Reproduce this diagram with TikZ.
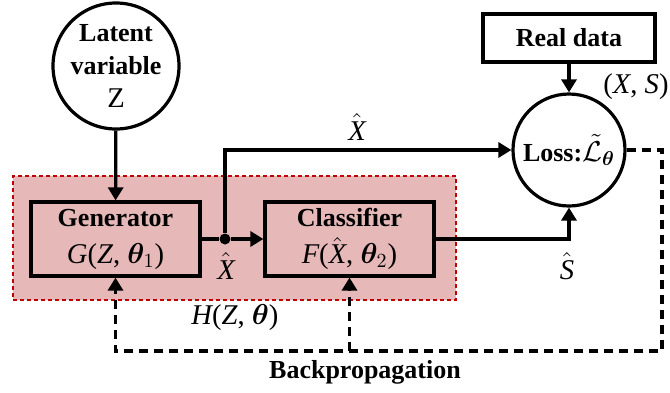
\documentclass[tikz,border=0pt]{standalone}
\usepackage[no-math]{fontspec}
\setmainfont{Liberation Serif}
\usepackage{bm}
\usetikzlibrary{arrows.meta}

\definecolor{grpfill}{HTML}{E6B9B8}
\definecolor{grpline}{HTML}{C00000}

% italic letters in the serif text face, for the formulas
\newcommand{\iv}[1]{\mbox{\itshape #1}}
% slightly larger size used for formulas
\newcommand{\fsz}{\fontsize{14.3}{16}\selectfont}

\tikzset{
  every node/.style={font=\fontsize{13}{16.5}\selectfont},
  wire/.style={line width=1.6pt},
  arr/.style={wire, -{Triangle[length=6.5pt,width=7.5pt]}},
  backprop/.style={wire, dash pattern=on 4.5pt off 3pt},
  bparr/.style={backprop, -{Triangle[length=6.5pt,width=7.5pt]}},
  blk/.style={draw, line width=1.6pt, inner sep=0pt, align=center},
  circnode/.style={draw, circle, line width=1.6pt, inner sep=0pt, align=center},
  grpbox/.style={draw=grpline, fill=grpfill, line width=1.2pt,
                 dash pattern=on 2pt off 1.5pt, inner sep=0pt},
  junction/.style={circle, fill=black, inner sep=0pt, minimum size=5.5pt},
  formula/.style={font=\fsz},
}

\begin{document}
\begin{tikzpicture}[x=0.5pt, y=-0.5pt]
  \useasboundingbox (0,0) rectangle (670,392);

  % shaded group holding generator and classifier
  \node[grpbox, minimum width=221.5pt, minimum height=62pt] (grp) at (234.5,238) {};

  % blocks
  \node[circnode, minimum size=63pt, font=\fontsize{13}{16.5}\selectfont]
       (lat) at (116,66) {\textbf{Latent}\\\textbf{variable}\\{\fsz Z}};
  \node[blk, minimum width=84.5pt, minimum height=37pt, font=\fontsize{13}{18.5}\selectfont]
       (gen) at (115.5,239) {\textbf{Generator}\\{\fsz\iv{G}(\iv{Z}, $\bm{\theta}_1$)}};
  \node[blk, minimum width=84.5pt, minimum height=37pt, font=\fontsize{13}{18.5}\selectfont]
       (cls) at (349.5,239) {\textbf{Classifier}\\{\fsz\iv{F}($\hat{\iv{X}}$, $\bm{\theta}_2$)}};
  \node[blk, minimum width=86pt, minimum height=24pt]
       (real) at (569,38) {\textbf{Real data}};
  \node[circnode, minimum size=56pt]
       (loss) at (569,150) {\textbf{Loss:}{\fsz$\tilde{\mathcal{L}}_{\bm{\theta}}$}};
  \node[junction] (dot) at (225,239) {};

  % forward connectors
  \draw[arr] (lat) -- (gen);
  \draw[wire] (gen) -- (dot);
  \draw[arr] (dot) -- (cls);
  \draw[arr] (dot) |- (loss);
  \draw[arr] (cls) -| (loss);
  \draw[arr] (real) -- (loss);

  % backpropagation path
  \coordinate (bpr) at (662,150);
  \coordinate (bpb) at (662,351);
  \draw[bparr] (loss.east) -- (bpr) -- (bpb) -- (gen.south |- bpb) -- (gen.south);
  \draw[bparr] (cls.south |- bpb) -- (cls.south);

  % labels
  \node[formula] (xh1) at (357,127) {$\hat{\iv{X}}$};
  \node[formula] (xh2) at (226,266) {$\hat{\iv{X}}$};
  \node[formula] (sh) at (567,266) {$\hat{\iv{S}}$};
  \node[formula] (xs) at (636,87) {(\iv{X}, \iv{S})};
  \node[formula] (hz) at (235,318) {\iv{H}(\iv{Z}, $\bm{\theta}$)};
  \node (bp) at (365,372) {\textbf{Backpropagation}};
\end{tikzpicture}
\end{document}
